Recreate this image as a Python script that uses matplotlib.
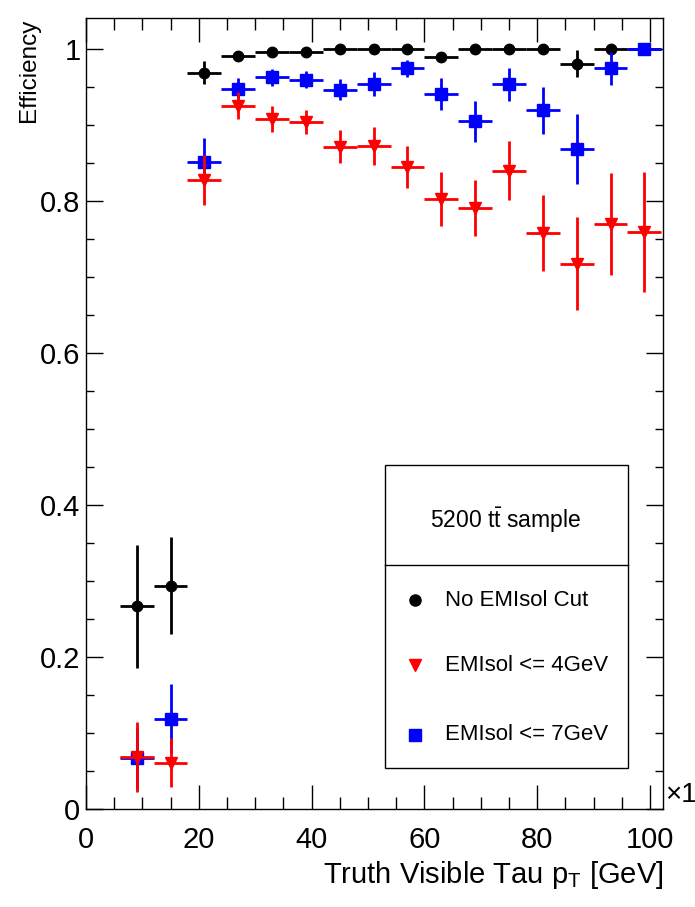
import matplotlib
matplotlib.use("Agg")
import matplotlib.pyplot as plt
from matplotlib.ticker import MultipleLocator
from matplotlib.lines import Line2D

plt.rcParams['font.family'] = ['Liberation Sans', 'DejaVu Sans']
plt.rcParams['mathtext.fontset'] = 'custom'
plt.rcParams['mathtext.rm'] = 'Liberation Sans'
plt.rcParams['mathtext.it'] = 'Liberation Sans'

# bin centres (GeV), bin width 6
pt = [9, 15, 21, 27, 33, 39, 45, 51, 57, 63, 69, 75, 81, 87, 93, 99]
pt_halfwidth = 3

eff_nocut = [0.267, 0.294, 0.969, 0.991, 0.996, 0.997, 1.0, 1.0, 1.0, 0.990, 1.0, 1.0, 1.0, 0.981, 1.0, 1.0]
err_nocut = [0.081, 0.064, 0.015, 0.005, 0.004, 0.004, 0.0, 0.0, 0.0, 0.007, 0.0, 0.0, 0.0, 0.018, 0.0, 0.0]

eff_7gev = [0.067, 0.119, 0.852, 0.948, 0.963, 0.960, 0.947, 0.954, 0.975, 0.941, 0.905, 0.954, 0.920, 0.869, 0.975, 1.0]
err_7gev = [0.040, 0.045, 0.031, 0.014, 0.011, 0.011, 0.014, 0.016, 0.011, 0.021, 0.027, 0.022, 0.031, 0.046, 0.022, 0.0]

eff_4gev = [0.068, 0.061, 0.828, 0.926, 0.908, 0.904, 0.872, 0.873, 0.845, 0.803, 0.791, 0.840, 0.758, 0.718, 0.770, 0.760]
err_4gev = [0.046, 0.032, 0.033, 0.018, 0.017, 0.016, 0.022, 0.025, 0.028, 0.036, 0.037, 0.039, 0.050, 0.061, 0.067, 0.079]

labels = ['No EMIsol Cut', 'EMIsol <= 4GeV', 'EMIsol <= 7GeV']

fig = plt.figure(figsize=(6.95, 9.07), dpi=100)
ax = fig.add_axes([0.1237, 0.108, 0.8302, 0.872])

ax.errorbar(pt, eff_nocut, xerr=pt_halfwidth, yerr=err_nocut, fmt='o', color='black',
            ms=7.5, elinewidth=2, capsize=0, zorder=3)
ax.errorbar(pt, eff_7gev, xerr=pt_halfwidth, yerr=err_7gev, fmt='s', color='#0000ff',
            ms=8, elinewidth=2, capsize=0, zorder=4)
ax.errorbar(pt, eff_4gev, xerr=pt_halfwidth, yerr=err_4gev, fmt='v', color='#ff0000',
            ms=9, elinewidth=2, capsize=0, zorder=5)

ax.set_xlim(0, 102.3)
ax.set_ylim(0, 1.041)
ax.xaxis.set_major_locator(MultipleLocator(20))
ax.xaxis.set_minor_locator(MultipleLocator(5))
ax.yaxis.set_minor_locator(MultipleLocator(0.05))
ax.set_yticks([0, 0.2, 0.4, 0.6, 0.8, 1.0])
ax.set_yticklabels(['0', '0.2', '0.4', '0.6', '0.8', '1'])

ax.tick_params(axis='x', which='major', direction='in', length=17, width=1, top=True,
               labelsize=21, pad=12.5)
ax.tick_params(axis='x', which='minor', direction='in', length=8.5, width=1, top=True)
ax.tick_params(axis='y', which='major', direction='in', length=12.5, width=1, right=True,
               labelsize=21, pad=4)
ax.tick_params(axis='y', which='minor', direction='in', length=6, width=1, right=True)
for s in ax.spines.values():
    s.set_linewidth(1)

ax.set_xlabel(r'Truth Visible Tau $\mathrm{p_{T}}$ [GeV]', fontsize=21, loc='right', labelpad=3)
ax.set_ylabel('Efficiency', fontsize=17.5, loc='top')
ax.yaxis.set_label_coords(-0.080, 1.0)

fig.text(0.957, 0.109, '\u00d71', fontsize=20, ha='left', va='bottom')

# legend box, ROOT style
box = plt.Rectangle((0.518, 0.052), 0.421, 0.383, transform=ax.transAxes, fill=False,
                    edgecolor='black', linewidth=1, zorder=6)
ax.add_patch(box)
ax.add_line(Line2D([0.518, 0.939], [0.308, 0.308], transform=ax.transAxes, color='black',
                   linewidth=1, zorder=6))
ax.text(0.728, 0.365, r'5200 $\mathrm{t\bar{t}}$ sample', transform=ax.transAxes,
        ha='center', va='center', fontsize=16.5)
markers = ['o', 'v', 's']
colors = ['black', '#ff0000', '#0000ff']
ys = [0.264, 0.182, 0.094]
for lab, m, c, y in zip(labels, markers, colors, ys):
    ax.plot([0.570], [y], marker=m, color=c, ms=8, transform=ax.transAxes, zorder=7)
    ax.text(0.622, y, lab, transform=ax.transAxes, ha='left', va='center', fontsize=16)

fig.savefig('out.png', dpi=100)
